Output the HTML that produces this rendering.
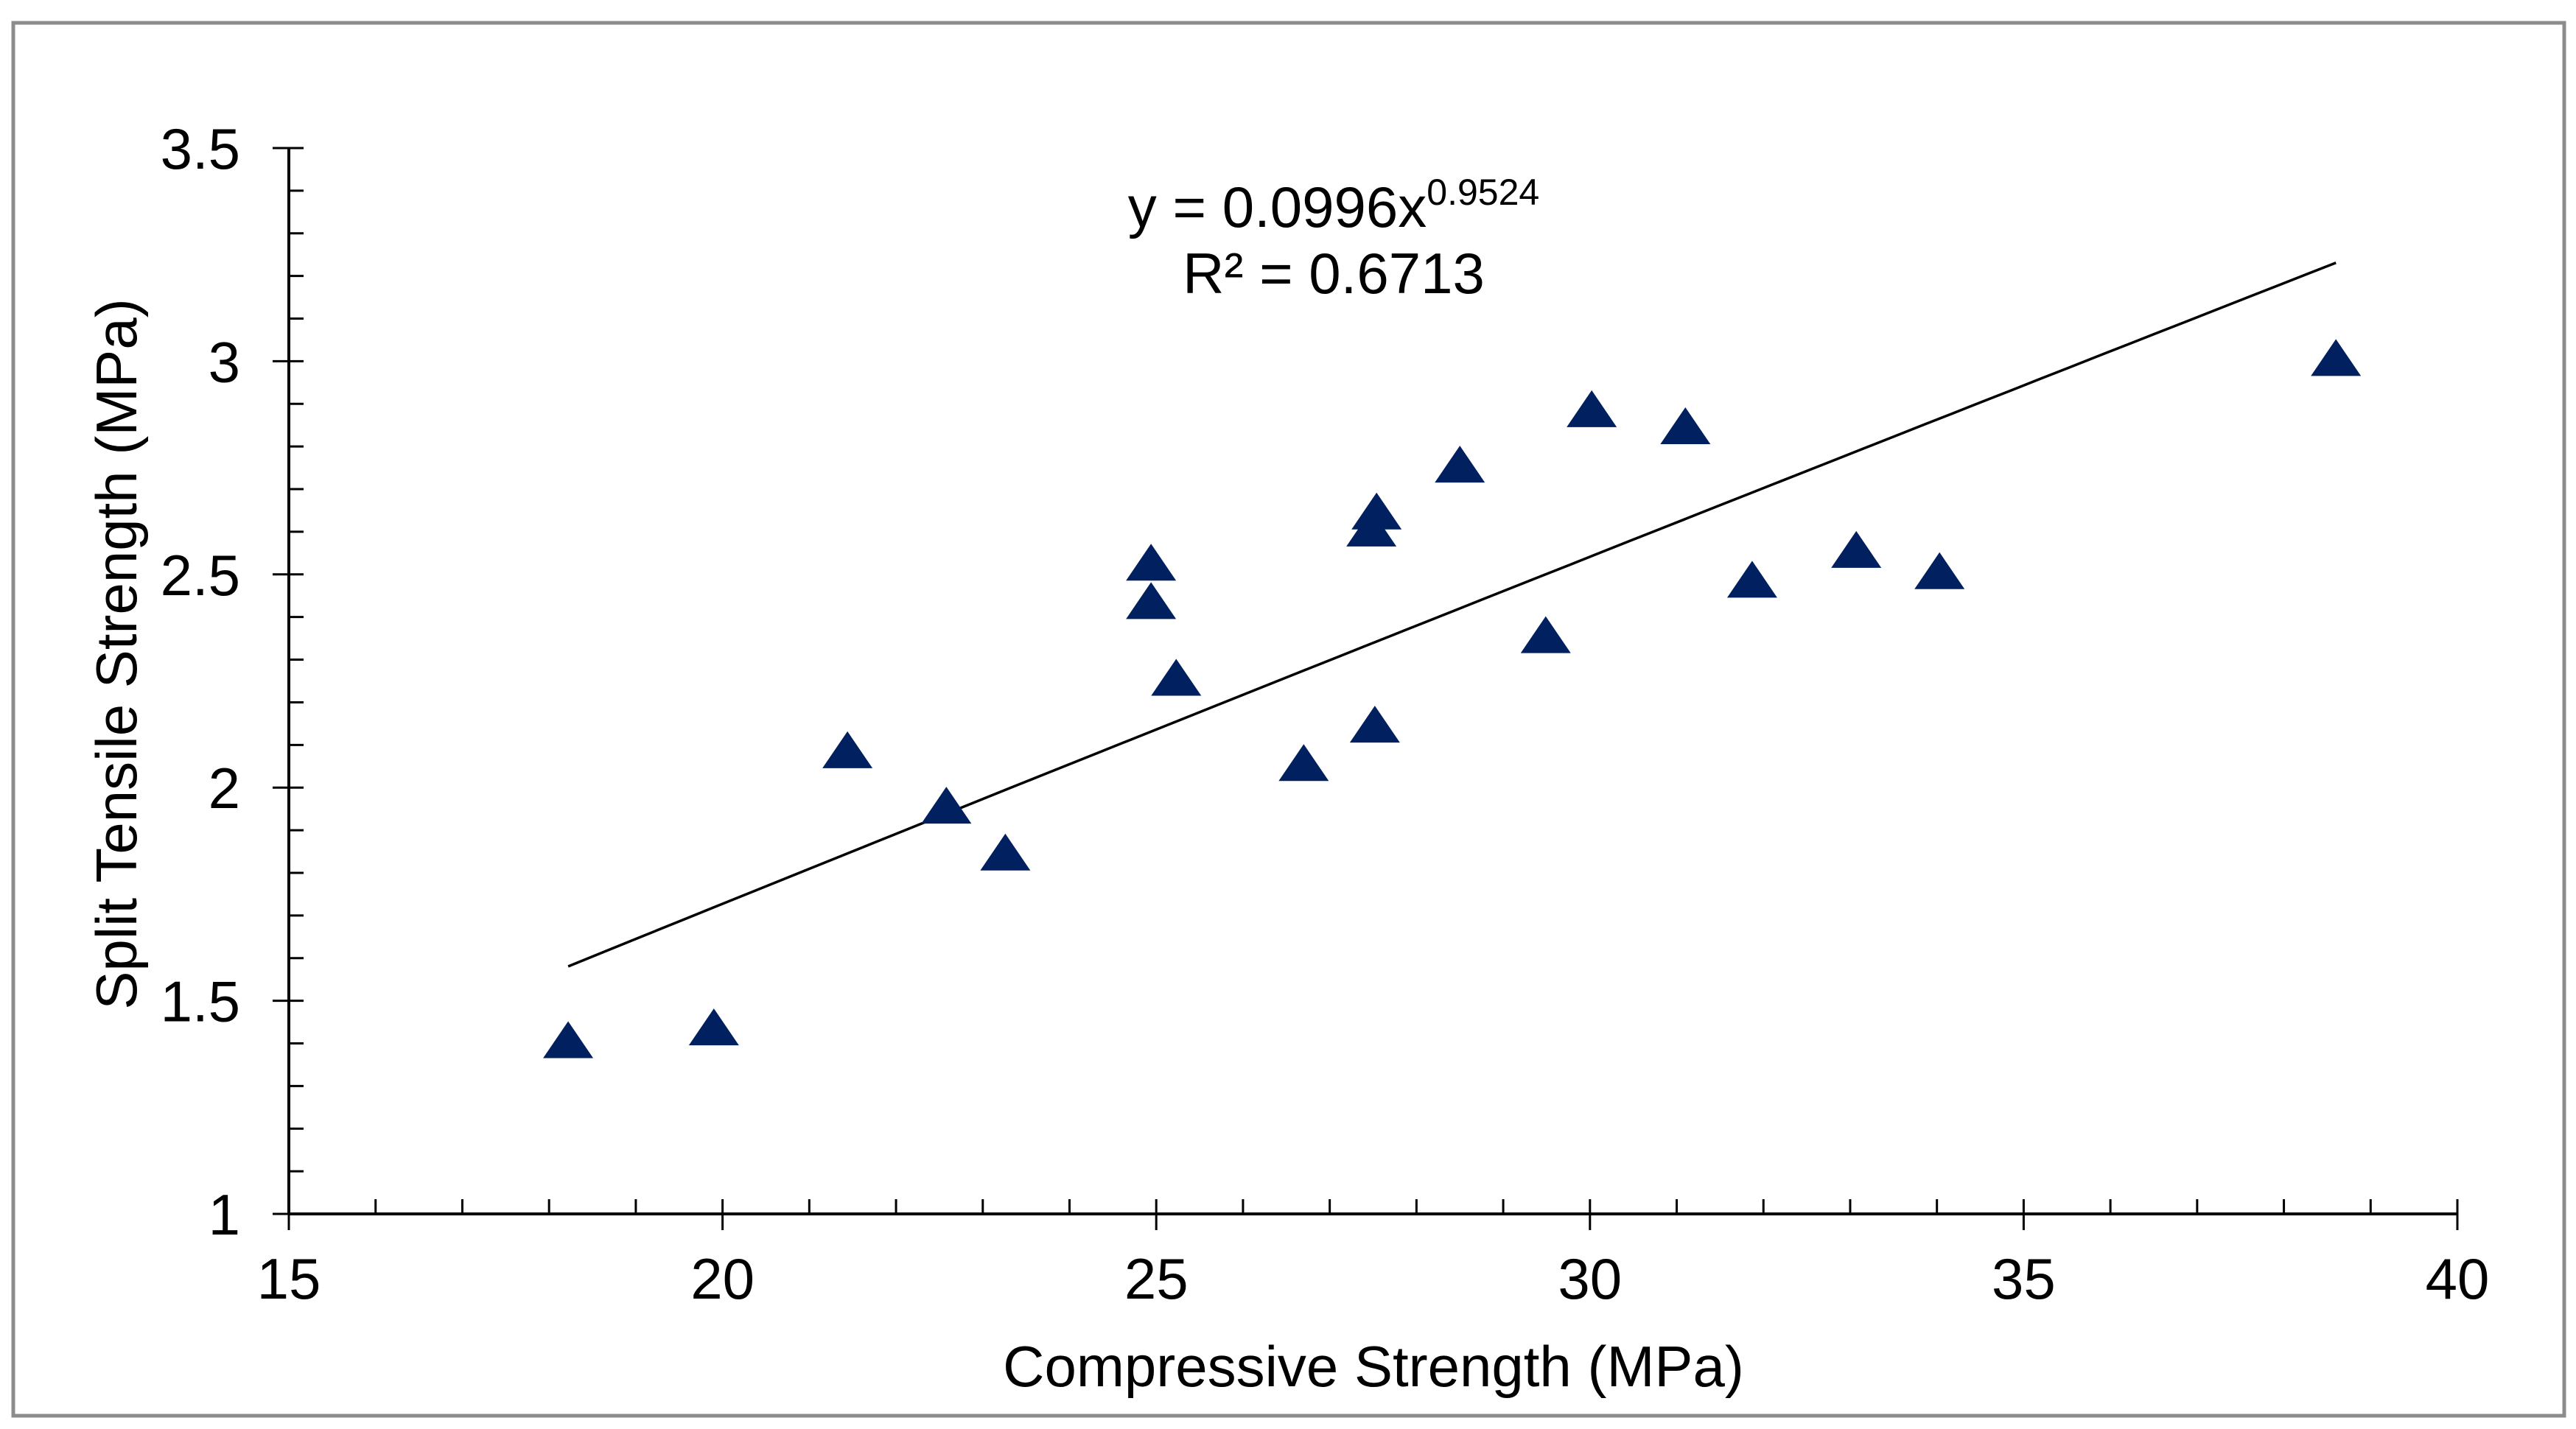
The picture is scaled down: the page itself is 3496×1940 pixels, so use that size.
<!DOCTYPE html>
<html><head><meta charset="utf-8"><style>
html,body{margin:0;padding:0;background:#fff;}
svg{display:block;}
text{font-family:"Liberation Sans",Arial,sans-serif;fill:#000;}
</style></head><body>
<svg id="chart" width="3496" height="1940" viewBox="0 0 3496 1940">
<rect x="18" y="31" width="3462" height="1891" fill="#fff" stroke="#8c8c8c" stroke-width="5"/>
<g id="axes"></g>
<g id="marks"></g>
<text x="1810" y="308" font-size="78" text-anchor="middle">y = 0.0996x<tspan font-size="50" dy="-30">0.9524</tspan></text>
<text x="1810" y="398" font-size="78" text-anchor="middle">R² = 0.6713</text>
<text x="1864" y="1882" font-size="78" text-anchor="middle">Compressive Strength (MPa)</text>
<text x="0" y="0" font-size="78" text-anchor="middle" transform="translate(185,888) rotate(-90)">Split Tensile Strength (MPa)</text>
</svg>
<script>
const compressive = [18.22,19.9,21.44,22.58,23.26,24.94,24.94,25.23,26.7,27.48,27.54,27.52,28.5,29.49,30.02,31.1,31.87,33.07,34.03,38.6];
const tensile = [1.40,1.43,2.08,1.95,1.84,2.43,2.52,2.25,2.05,2.60,2.64,2.14,2.75,2.35,2.88,2.84,2.48,2.55,2.50,3.00];
const xTicks = [15,20,25,30,35,40];
const yTicks = [1,1.5,2,2.5,3,3.5];
const yTickLabels = ["1","1.5","2","2.5","3","3.5"];
const fitA = 0.0996, fitB = 0.9524, fitX0 = 18.22, fitX1 = 38.6;

const NS="http://www.w3.org/2000/svg";
const X0=392,X1=3335,Y0=1648,Y1=201;
function sx(v){return X0+(v-15)/25*(X1-X0);}
function sy(v){return Y0-(v-1)/2.5*(Y0-Y1);}
function mk(tag,attrs,parent){const e=document.createElementNS(NS,tag);for(const k in attrs)e.setAttribute(k,attrs[k]);parent.appendChild(e);return e;}
const axes=document.getElementById('axes'),marks=document.getElementById('marks');

let el=mk('line',{x1:X0,y1:Y0,x2:X1,y2:Y0,stroke:'#000','stroke-width':4},axes);


el=mk('line',{x1:X0,y1:Y0,x2:X0,y2:Y1,stroke:'#000','stroke-width':4},axes);



for(let v=16;v<40;v++){if(v%5===0)continue;
 el=mk('line',{x1:sx(v),y1:Y0,x2:sx(v),y2:Y0-20,stroke:'#000','stroke-width':3},axes);
 
 }
for(let i=0;i<=25;i++){const v=1+i*0.1;if(i%5===0)continue;
 el=mk('line',{x1:X0,y1:sy(v),x2:X0+20,y2:sy(v),stroke:'#000','stroke-width':3},axes);
 
 }
xTicks.forEach(v=>{
 el=mk('line',{x1:sx(v),y1:Y0-20,x2:sx(v),y2:Y0+22,stroke:'#000','stroke-width':3},axes);
 
 
 const t=mk('text',{x:sx(v),y:Y0+115,'font-size':78,'text-anchor':'middle'},axes);t.textContent=String(v);
 
 });
yTicks.forEach((v,i)=>{
 el=mk('line',{x1:X0-22,y1:sy(v),x2:X0+20,y2:sy(v),stroke:'#000','stroke-width':3},axes);
 
 
 const t=mk('text',{x:X0-66,y:sy(v)+28,'font-size':78,'text-anchor':'end'},axes);t.textContent=yTickLabels[i];
 
 });

let pts=[];for(let i=0;i<=60;i++){const x=fitX0+(fitX1-fitX0)*i/60;pts.push(sx(x).toFixed(1)+','+sy(fitA*Math.pow(x,fitB)).toFixed(1));}
el=mk('polyline',{points:pts.join(' '),fill:'none',stroke:'#000','stroke-width':3.5},marks);



compressive.forEach((x,i)=>{const cx=sx(x),cy=sy(tensile[i]);
 el=mk('polygon',{points:`${cx},${cy-30} ${cx-34},${cy+20} ${cx+34},${cy+20}`,fill:'#002060'},marks);
 
 });
</script>
</body></html>
